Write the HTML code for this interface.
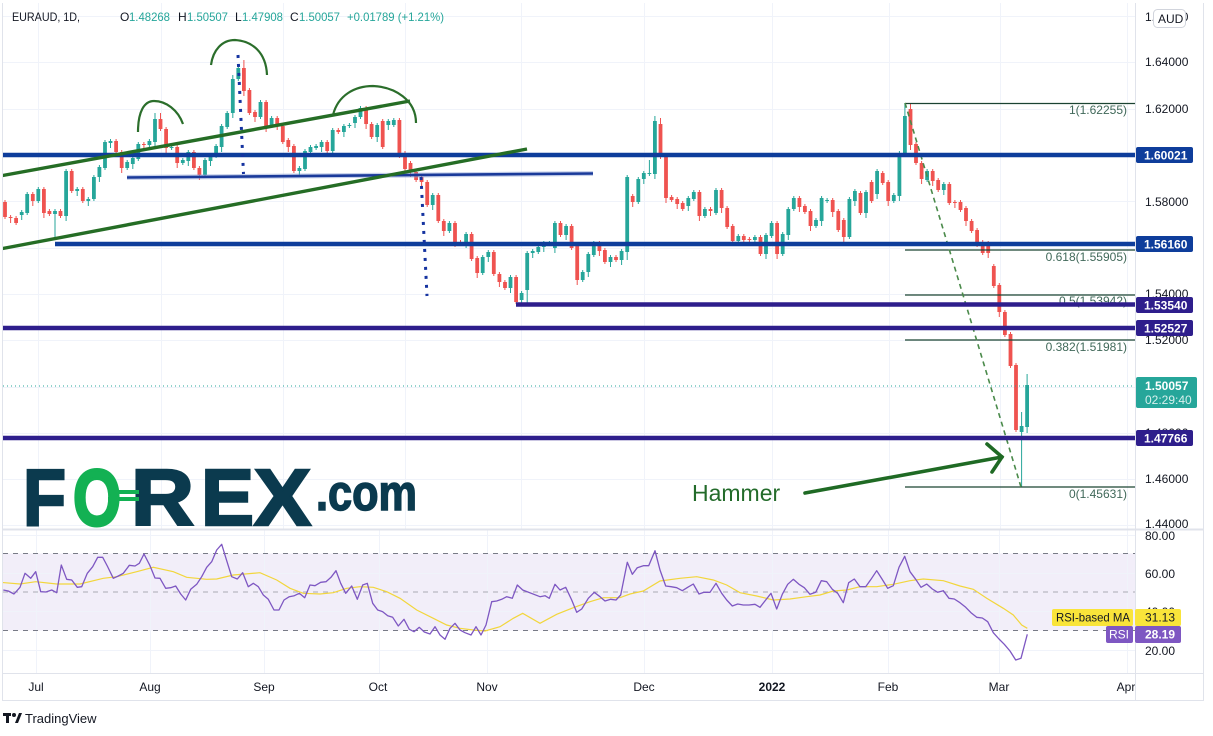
<!DOCTYPE html>
<html><head><meta charset="utf-8"><style>
html,body{margin:0;padding:0;background:#fff;}
body{width:1213px;height:736px;overflow:hidden;}
svg{display:block;font-family:"Liberation Sans",sans-serif;}
</style></head><body>
<svg id="s" width="1213" height="736" viewBox="0 0 1213 736" xmlns="http://www.w3.org/2000/svg">
<defs>
<clipPath id="pane"><rect x="3" y="3" width="1132" height="526"/></clipPath>
<clipPath id="rpane"><rect x="3" y="530" width="1132" height="143"/></clipPath>
<clipPath id="taxis"><rect x="3" y="674" width="1132" height="26"/></clipPath>
</defs>
<rect width="1213" height="736" fill="#fff"/>
<g stroke="#f0f3fa" stroke-width="1">
<line x1="3" y1="16.5" x2="1135" y2="16.5"/><line x1="3" y1="62.5" x2="1135" y2="62.5"/><line x1="3" y1="109.5" x2="1135" y2="109.5"/><line x1="3" y1="155.5" x2="1135" y2="155.5"/><line x1="3" y1="201.5" x2="1135" y2="201.5"/><line x1="3" y1="248.5" x2="1135" y2="248.5"/><line x1="3" y1="294.5" x2="1135" y2="294.5"/><line x1="3" y1="340.5" x2="1135" y2="340.5"/><line x1="3" y1="387.5" x2="1135" y2="387.5"/><line x1="3" y1="433.5" x2="1135" y2="433.5"/><line x1="3" y1="479.5" x2="1135" y2="479.5"/><line x1="3" y1="525.5" x2="1135" y2="525.5"/>
<line x1="38.5" y1="3" x2="38.5" y2="529"/><line x1="161.5" y1="3" x2="161.5" y2="529"/><line x1="283.5" y1="3" x2="283.5" y2="529"/><line x1="405.5" y1="3" x2="405.5" y2="529"/><line x1="521.5" y1="3" x2="521.5" y2="529"/><line x1="644.5" y1="3" x2="644.5" y2="529"/><line x1="772.5" y1="3" x2="772.5" y2="529"/><line x1="889.5" y1="3" x2="889.5" y2="529"/><line x1="1000.5" y1="3" x2="1000.5" y2="529"/><line x1="1127.5" y1="3" x2="1127.5" y2="529"/>
</g>
<rect x="3" y="553.5" width="1132" height="77" fill="#7e57c2" fill-opacity="0.1"/>
<g stroke="#f0f3fa" stroke-width="1">
<line x1="3" y1="535.5" x2="1135" y2="535.5"/><line x1="3" y1="573.5" x2="1135" y2="573.5"/><line x1="3" y1="611.5" x2="1135" y2="611.5"/><line x1="3" y1="650.5" x2="1135" y2="650.5"/>
<line x1="36.5" y1="530" x2="36.5" y2="673"/><line x1="150.5" y1="530" x2="150.5" y2="673"/><line x1="264.5" y1="530" x2="264.5" y2="673"/><line x1="379.5" y1="530" x2="379.5" y2="673"/><line x1="487.5" y1="530" x2="487.5" y2="673"/><line x1="644.5" y1="530" x2="644.5" y2="673"/><line x1="772.5" y1="530" x2="772.5" y2="673"/><line x1="888.5" y1="530" x2="888.5" y2="673"/><line x1="999.5" y1="530" x2="999.5" y2="673"/><line x1="1127.5" y1="530" x2="1127.5" y2="673"/>
</g>
<g stroke="#787b86" stroke-width="1" stroke-dasharray="5 5">
<line x1="3" y1="553.5" x2="1135" y2="553.5"/><line x1="3" y1="592" x2="1135" y2="592" stroke-opacity="0.6"/><line x1="3" y1="630.5" x2="1135" y2="630.5"/>
</g>

<g font-weight="bold" fill="#0b3a4e" stroke="#0b3a4e" stroke-width="2.5">
<text x="23" y="525" font-size="80" textLength="43" lengthAdjust="spacingAndGlyphs">F</text>
<text x="131" y="525" font-size="80" textLength="63" lengthAdjust="spacingAndGlyphs">R</text>
<text x="201" y="525" font-size="80" textLength="53" lengthAdjust="spacingAndGlyphs">E</text>
<text x="254" y="525" font-size="80" textLength="57" lengthAdjust="spacingAndGlyphs">X</text>
<text x="316" y="510" font-size="50" textLength="101" lengthAdjust="spacingAndGlyphs" stroke-width="1.5">.com</text>
</g>
<text x="73" y="525" font-size="80" font-weight="bold" fill="#13b153" stroke="#13b153" stroke-width="3" textLength="48" lengthAdjust="spacingAndGlyphs">O</text>
<rect x="108" y="490" width="31" height="4" fill="#13b153"/>
<rect x="108" y="497" width="31" height="4" fill="#13b153"/>

<g id="candles" clip-path="url(#pane)"></g>

<g clip-path="url(#pane)">
<g stroke="#1b4332" stroke-width="1.2">
<line x1="905" y1="103.5" x2="1135" y2="103.5"/><line x1="905" y1="250" x2="1135" y2="250"/><line x1="905" y1="295" x2="1135" y2="295"/><line x1="905" y1="340" x2="1135" y2="340"/><line x1="905" y1="487" x2="1135" y2="487"/>
</g>
<g font-size="12" fill="#41695a" text-anchor="end">
<text x="1127" y="114">1(1.62255)</text>
<text x="1127" y="261">0.618(1.55905)</text>
<text x="1127" y="305">0.5(1.53942)</text>
<text x="1127" y="351">0.382(1.51981)</text>
<text x="1127" y="498">0(1.45631)</text>
</g>
<line x1="905" y1="103" x2="1021" y2="487" stroke="#4a8a4a" stroke-width="1.6" stroke-dasharray="5 4"/>
<line x1="3" y1="386" x2="1135" y2="386" stroke="#26a69a" stroke-width="1" stroke-dasharray="1 3"/>
<g stroke-width="4.6">
<line x1="0" y1="155" x2="1135" y2="155" stroke="#0e3d9b"/>
<line x1="55" y1="244" x2="1135" y2="244" stroke="#0e3d9b"/>
<line x1="516" y1="304.5" x2="1135" y2="304.5" stroke="#2e1e8c"/>
<line x1="0" y1="328" x2="1135" y2="328" stroke="#2e1e8c"/>
<line x1="0" y1="438" x2="1135" y2="438" stroke="#2e1e8c"/>
</g>
<line x1="127" y1="177.5" x2="593" y2="173.5" stroke="#8ea2d6" stroke-width="5" stroke-opacity="0.5"/>
<line x1="127" y1="177.5" x2="593" y2="173.5" stroke="#1a3a9a" stroke-width="2.6"/>
<line x1="0" y1="176" x2="410" y2="101" stroke="#256d25" stroke-width="3.4"/>
<line x1="0" y1="249" x2="527" y2="149" stroke="#256d25" stroke-width="3.4"/>
<line x1="238" y1="55" x2="243.5" y2="174" stroke="#1533a0" stroke-width="3" stroke-dasharray="3 6"/>
<line x1="421" y1="177" x2="427" y2="296" stroke="#1533a0" stroke-width="3" stroke-dasharray="3 6"/>
<g fill="none" stroke="#2b6e2b" stroke-width="2.2">
<path d="M138,132 C138,112 144,101 154,101 C166,101 178,110 183,124"/>
<path d="M211,65 C213,50 222,40 235,40 C252,41 266,52 267,75"/>
<path d="M333,115 C338,95 355,86 373,86 C395,87 416,100 416,123"/>
</g>
<g stroke="#1f6a24" stroke-width="3.6" fill="none" stroke-linecap="round">
<line x1="805" y1="493" x2="1002" y2="457"/>
<polyline points="987,444 1002,457 992,472"/>
</g>
<text x="692" y="501" font-size="23" fill="#236b2a">Hammer</text>
</g>

<g id="rsi" clip-path="url(#rpane)"></g>

<g stroke="#e0e3eb" stroke-width="1" fill="none">
<line x1="2.5" y1="3" x2="2.5" y2="700"/>
<line x1="1203.5" y1="3" x2="1203.5" y2="700"/>
<line x1="2" y1="700.5" x2="1204" y2="700.5"/>
<line x1="1135.5" y1="3" x2="1135.5" y2="700"/>
<line x1="2" y1="673.5" x2="1204" y2="673.5"/>
</g>
<rect x="2" y="528.5" width="1202" height="2" fill="#e0e3eb"/>

<g font-size="12" fill="#131722">
<text x="1145" y="21">1.66000</text>
<text x="1145" y="66">1.64000</text>
<text x="1145" y="113">1.62000</text>
<text x="1145" y="206">1.58000</text>
<text x="1145" y="298">1.54000</text>
<text x="1145" y="344">1.52000</text>
<text x="1145" y="437">1.48000</text>
<text x="1145" y="483">1.46000</text>
<text x="1145" y="528">1.44000</text>
<text x="1145" y="540">80.00</text>
<text x="1145" y="578">60.00</text>
<text x="1145" y="616">40.00</text>
<text x="1145" y="655">20.00</text>
</g>
<rect x="1153.5" y="9.5" width="32" height="18" rx="4" fill="#fff" stroke="#d1d4dc"/>
<text x="1158" y="23" font-size="12" fill="#131722">AUD</text>
<g font-size="12" font-weight="bold" fill="#fff">
<rect x="1136" y="147" width="57" height="16" rx="2" fill="#0e3d9b"/><text x="1144" y="159.5">1.60021</text>
<rect x="1136" y="236" width="57" height="16" rx="2" fill="#0e3d9b"/><text x="1144" y="248.5">1.56160</text>
<rect x="1136" y="297" width="57" height="16" rx="2" fill="#2e1e8c"/><text x="1144" y="309.5">1.53540</text>
<rect x="1136" y="320" width="57" height="16" rx="2" fill="#2e1e8c"/><text x="1144" y="332.5">1.52527</text>
<rect x="1136" y="430" width="57" height="16" rx="2" fill="#2e1e8c"/><text x="1144" y="442.5">1.47766</text>
<rect x="1136" y="377" width="61" height="31" rx="2" fill="#26a69a"/><text x="1145" y="390">1.50057</text>
<text x="1145" y="404" font-weight="normal" fill="#d7f0ed">02:29:40</text>
</g>
<rect x="1052" y="609" width="81" height="17" rx="2" fill="#f9e43a"/>
<text x="1056" y="621.5" font-size="12" fill="#131722" textLength="74" lengthAdjust="spacingAndGlyphs">RSI-based MA</text>
<rect x="1135" y="609" width="46" height="17" rx="2" fill="#f9e43a"/>
<text x="1145" y="621.5" font-size="12" fill="#131722">31.13</text>
<rect x="1106" y="626" width="27" height="17" rx="2" fill="#7e57c2"/>
<text x="1109" y="638.5" font-size="12" fill="#fff">RSI</text>
<rect x="1135" y="626" width="46" height="17" rx="2" fill="#7e57c2"/>
<text x="1145" y="638.5" font-size="12" font-weight="bold" fill="#fff">28.19</text>

<g font-size="12" fill="#131722" text-anchor="middle" clip-path="url(#taxis)">
<text x="36" y="691">Jul</text><text x="150" y="691">Aug</text><text x="264" y="691">Sep</text><text x="378" y="691">Oct</text><text x="487" y="691">Nov</text><text x="644" y="691">Dec</text><text x="772" y="691" font-weight="bold">2022</text><text x="888" y="691">Feb</text><text x="999" y="691">Mar</text><text x="1126" y="691">Apr</text>
</g>

<g font-size="12" fill="#131722" lengthAdjust="spacingAndGlyphs">
<text x="12" y="21" textLength="68" lengthAdjust="spacingAndGlyphs">EURAUD, 1D,</text>
<text x="120" y="21">O</text>
<text x="129" y="21" fill="#26a69a" textLength="41" lengthAdjust="spacingAndGlyphs">1.48268</text>
<text x="178" y="21">H</text>
<text x="187" y="21" fill="#26a69a" textLength="41" lengthAdjust="spacingAndGlyphs">1.50507</text>
<text x="235" y="21">L</text>
<text x="242" y="21" fill="#26a69a" textLength="41" lengthAdjust="spacingAndGlyphs">1.47908</text>
<text x="290" y="21">C</text>
<text x="299" y="21" fill="#26a69a" textLength="41" lengthAdjust="spacingAndGlyphs">1.50057</text>
<text x="347" y="21" fill="#26a69a" textLength="97" lengthAdjust="spacingAndGlyphs">+0.01789 (+1.21%)</text>
</g>

<g fill="#131722">
<rect x="3" y="713" width="8" height="3"/><rect x="6" y="713" width="3" height="10"/>
<circle cx="14" cy="715" r="2"/>
<polygon points="15,723 19,713 22,713 18,723"/>
</g>
<text x="25" y="723" font-size="13" fill="#131722">TradingView</text>
</svg>
<script>
(function(){
var raw="202,217,r|217,218,r|218,223,r|212,215,g|194,213,g|194,201,r|189,201,g|189,213,r|211,214,r|211,214,g|211,216,r|171,216,g|171,191,r|189,191,g|189,201,r|199,201,g|177,199,g|167,177,g|142,168,g|141,143,g|141,152,r|152,168,r|162,168,g|158,164,g|144,159,g|144,145,r|141,145,g|119,142,g|119,129,r|129,148,r|147,148,g|147,163,r|160,163,g|152,161,g|152,168,r|168,175,r|160,175,g|156,161,g|146,156,g|126,147,g|113,127,g|79,113,g|68,79,g|68,91,r|90,113,r|112,117,r|102,117,g|102,127,r|118,126,g|118,125,r|126,142,r|140,147,r|146,171,r|168,171,g|151,169,g|147,152,g|146,148,g|142,147,g|142,151,r|130,151,g|130,132,r|126,132,g|125,126,g|117,123,g|108,117,g|108,124,r|124,137,r|125,137,g|121,147,r|121,125,g|120,125,g|120,153,r|153,169,r|163,172,r|172,180,r|177,182,r|182,205,r|195,205,g|195,221,r|221,231,r|223,231,g|223,242,r|242,243,r|234,243,g|234,259,r|258,273,r|257,273,g|252,257,g|252,274,r|274,282,r|282,288,r|277,288,g|277,302,r|293,300,g|253,290,g|251,253,g|247,252,g|243,247,g|243,244,g|223,248,g|223,235,r|226,235,g|226,248,r|245,280,r|272,280,g|254,272,g|243,255,g|243,251,r|250,262,r|257,262,g|257,260,r|251,260,g|177,252,g|196,202,r|179,202,g|173,179,g|173,174,g|121,174,g|124,157,r|156,198,r|197,200,r|199,204,r|203,209,r|198,206,g|192,199,g|192,216,r|209,216,g|209,211,r|190,213,g|190,208,r|208,227,r|226,241,r|236,241,g|236,240,r|239,240,r|237,240,g|237,254,r|235,254,g|223,236,g|223,254,r|234,254,g|209,235,g|198,209,g|198,207,r|206,212,r|211,226,r|220,226,g|198,221,g|200,201,g|200,212,r|211,230,r|220,237,r|199,237,g|191,201,g|193,213,r|192,213,g|182,201,r|171,194,g|173,183,r|182,201,r|195,201,g|153,196,g|116,154,g|109,145,r|144,163,r|163,179,r|171,180,g|171,181,r|180,190,r|184,190,g|184,203,r|202,203,r|202,210,r|208,221,r|221,231,r|230,242,r|242,253,r|243,253,r|266,286,r|285,312,r|312,335,r|334,366,r|365,430,r|426,432,g|385,427,g";
var ov={9:[null,239],27:[113,null],28:[113,null],41:[75,null],42:[64,null],43:[60,null],92:[null,304],94:[null,304],112:[null,260],116:[160,null],117:[116,null],118:[118,null],162:[103,null],163:[104,null],181:[null,368],182:[363,432],183:[412,487],184:[374,433]};
var g=document.getElementById("candles");var h="";
raw.split("|").forEach(function(s,i){
 var p=s.split(","),t=+p[0],b=+p[1],c=p[2]=="g"?"#26a69a":"#ef5350";
 var x=5+i*5.555;
 var hi=t-(2+(i*7)%7),lo=b+(2+(i*3)%6);
 if(ov[i]){if(ov[i][0]!=null)hi=ov[i][0];if(ov[i][1]!=null)lo=ov[i][1];}
 if(b-t<1)b=t+1;
 h+='<line x1="'+x.toFixed(1)+'" y1="'+hi+'" x2="'+x.toFixed(1)+'" y2="'+lo+'" stroke="'+c+'" stroke-width="1"/>';
 h+='<rect x="'+(x-1.9).toFixed(1)+'" y="'+t+'" width="3.8" height="'+(b-t)+'" fill="'+c+'"/>';
});
g.innerHTML=h;
function pts(a,ox){var r=[];for(var i=0;i<a.length;i+=2){r.push((ox+a[i]/3).toFixed(1)+","+(530+a[i+1]/3).toFixed(1));}return r.join(" ");}
var r1=[10,180,25,183,42,192,60,172,75,130,92,145,107,125,122,185,138,186,155,180,170,188,184,105,200,148,215,150,232,172,245,170,262,130,278,110,293,82,308,82,322,108,340,145,355,138,370,130,388,106,405,108,418,100,432,72,450,107,465,144,480,145,497,175,512,173,527,168,542,192,557,210,572,178,590,163,605,140,620,112,635,95,650,60,665,43,680,92,695,140,712,147,728,128,745,170,760,160,775,170,790,195,805,208,822,240,837,240,852,210,868,200,883,197,898,190,914,203,930,165,945,167,962,157,978,155,993,142,1008,122,1022,160,1037,190,1055,168,1072,208,1088,165,1102,160,1118,220,1133,240,1148,245,1163,257,1178,262,1195,288,1212,268,1228,298,1242,305,1258,292,1273,306,1290,312,1305,290,1320,315,1335,328,1350,295,1365,280,1380,300,1395,308,1413,315,1428,290,1443,315,1458,285,1475,215,1490,213,1505,208,1520,200,1537,205,1552,165,1568,180,1620,200];
var r2=[15,197,28,205,45,163,60,180,77,172,95,210,110,247,125,237,145,205,163,187,180,200,195,213,212,208,228,210,242,195,262,97,277,133,292,113,310,107,326,107,345,62,360,120,377,168,393,170,410,173,427,182,443,172,460,162,477,192,492,187,510,187,528,160,545,190,560,210,577,228,593,222,610,225,627,225,645,223,660,232,677,210,693,190,710,237,727,193,743,163,760,148,777,163,793,173,810,193,827,187,844,152,860,155,877,178,893,190,910,218,926,158,943,147,960,170,977,170,993,148,1010,122,1026,147,1043,175,1060,167,1077,112,1094,79,1110,125,1127,148,1143,172,1160,162,1177,177,1193,187,1210,182,1227,205,1243,207,1260,218,1277,232,1293,248,1310,262,1327,264,1343,275,1360,308,1377,327,1393,343,1410,363,1427,390,1443,385,1462,313];
var m1=[0,157,60,162,107,155,170,162,240,162,310,145,350,140,410,125,460,112,520,125,560,142,620,148,650,147,700,135,780,128,830,150,870,175,910,190,960,192,1000,188,1040,175,1080,170,1120,172,1160,185,1200,205,1250,240,1300,265,1340,285,1380,295,1420,300,1455,303,1500,290,1540,265,1568,250,1620,280];
var m2=[50,253,100,233,150,215,190,203,240,203,270,192,310,183,360,153,420,145,470,140,520,150,560,165,600,188,650,198,700,210,750,207,800,200,840,195,880,183,920,180,960,170,1010,170,1060,163,1110,152,1150,147,1210,152,1260,168,1300,178,1340,205,1390,235,1420,255,1445,285,1462,295];
var rp=pts(r1,0)+" "+pts(r2,540), mp=pts(m1,0)+" "+pts(m2,540);
document.getElementById("rsi").innerHTML='<polyline points="'+mp+'" fill="none" stroke="#f2d63c" stroke-width="1.2"/><polyline points="'+rp+'" fill="none" stroke="#7e57c2" stroke-width="1.3" stroke-linejoin="round"/>';
})();
</script>
</body></html>
